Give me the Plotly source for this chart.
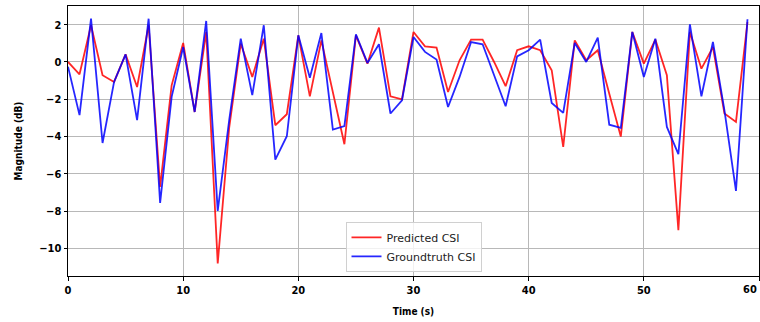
import plotly.graph_objects as go

# Sample times (s)
time_s = list(range(60))

# Predicted CSI magnitude (dB)
predicted_csi = [
    0.0, -0.66, 1.97, -0.71, -1.07, 0.41, -1.34, 1.97, -6.69, -1.25,
    1.02, -2.68, 1.61, -10.8, -3.5, 0.98, -0.8, 1.25, -3.39, -2.8,
    1.43, -1.84, 1.16, -1.6, -4.41, 1.43, -0.09, 1.84, -1.84, -2.0,
    1.61, 0.84, 0.77, -1.61, 0.09, 1.2, 1.2, 0.0, -1.3, 0.63,
    0.84, 0.63, -0.44, -4.55, 1.16, 0.09, 0.63, -1.7, -4.0, 1.61,
    -0.09, 1.2, -0.71, -9.01, 1.61, -0.36, 0.8, -2.76, -3.21, 2.14,
]

# Groundtruth CSI magnitude (dB)
groundtruth_csi = [
    -0.25, -2.85, 2.32, -4.34, -1.07, 0.41, -3.12, 2.32, -7.55, -1.87,
    0.8, -2.68, 2.2, -7.98, -3.1, 1.25, -1.78, 1.97, -5.23, -3.98,
    1.43, -0.84, 1.55, -3.62, -3.44, 1.48, -0.05, 0.95, -2.76, -2.05,
    1.34, 0.54, 0.13, -2.41, -0.8, 1.07, 0.95, -0.71, -2.37, 0.3,
    0.63, 1.2, -2.2, -2.73, 1.02, 0.0, 1.3, -3.36, -3.53, 1.61,
    -0.8, 1.25, -3.48, -4.94, 2.02, -1.84, 1.07, -2.59, -6.91, 2.29,
]

x_ticks = [0, 10, 20, 30, 40, 50, 60]
y_ticks = [-10, -8, -6, -4, -2, 0, 2]

tick_font = dict(family="DejaVu Sans Condensed, DejaVu Sans", size=11, color="black", weight="bold")
title_font = dict(family="DejaVu Sans Condensed, DejaVu Sans", size=10, color="black", weight="bold")

fig = go.Figure()
fig.add_trace(go.Scatter(
    x=time_s, y=predicted_csi, mode="lines", name="Predicted CSI",
    line=dict(color="rgba(255,0,0,0.85)", width=1.8),
))
fig.add_trace(go.Scatter(
    x=time_s, y=groundtruth_csi, mode="lines", name="Groundtruth CSI",
    line=dict(color="rgba(0,0,255,0.85)", width=1.8),
))

axis_common = dict(
    showline=True, linecolor="black", linewidth=1, mirror=True,
    ticks="outside", ticklen=3.5, tickwidth=1, tickcolor="black",
    showgrid=True, gridcolor="#b8b8b8", gridwidth=1,
    zeroline=False, tickfont=tick_font,
)

# the last x tick label sits at the right edge of the page; right-align it so it stays whole
fig.add_annotation(
    x=x_ticks[-1], xref="x", y=0, yref="paper",
    yanchor="top", xanchor="right", yshift=-5,
    text=str(x_ticks[-1]), showarrow=False, font=tick_font,
)

fig.update_layout(
    width=760, height=322,
    margin=dict(l=68, r=1, t=6, b=46),
    paper_bgcolor="white", plot_bgcolor="white",
    showlegend=True,
    legend=dict(
        x=0.5, xanchor="center", y=0.015, yanchor="bottom",
        bgcolor="rgba(255,255,255,0.8)", bordercolor="#d0d0d0", borderwidth=1,
        font=dict(family="DejaVu Sans", size=11, color="#222222"),
        tracegroupgap=0, itemwidth=30,
    ),
    xaxis=dict(
        range=[0, 60], tickvals=x_ticks,
        title=dict(text="Time (s)", font=title_font, standoff=12),
        **axis_common,
    ),
    yaxis=dict(
        range=[-11.47, 3.0], tickvals=y_ticks,
        title=dict(text="Magnitude (dB)", font=title_font, standoff=14),
        **axis_common,
    ),
)

fig.write_html("out.html")
